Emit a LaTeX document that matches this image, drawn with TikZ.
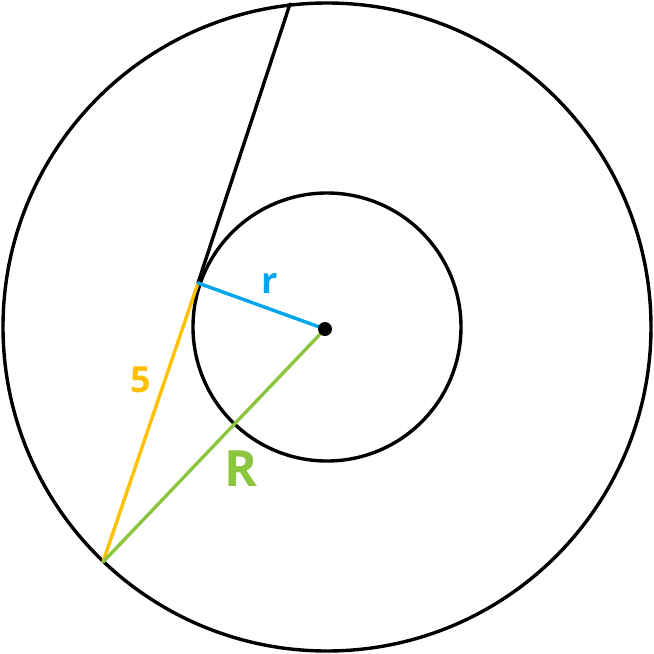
\documentclass[tikz,border=0pt]{standalone}
\usepackage{fontspec}
\setmainfont{Open Sans}
\definecolor{cblue}{RGB}{0,166,237}
\definecolor{corange}{RGB}{255,192,0}
\definecolor{cgreen}{RGB}{140,198,63}
\begin{document}
\begin{tikzpicture}[x=1pt,y=-1pt,
  seg/.style={line width=3.4pt,line cap=round},
  lbl/.style={inner sep=0pt,font=\fontsize{36}{36}\selectfont\bfseries}]
\useasboundingbox (0,0) rectangle (654,654);
\coordinate (C) at (327,327);
\coordinate (O) at (325,329);
\coordinate (T) at (198,283);
\coordinate (P) at (103,562);
\coordinate (Q) at (290,4);
\draw[line width=3.4pt] (C) circle[radius=324];
\draw[line width=3.4pt] (C) circle[radius=134];
\draw[seg,black] (T) -- (Q);
\draw[seg,corange] (P) -- (T);
\draw[seg,cblue] (T) -- (O);
\draw[seg,cgreen] (P) -- (O);
\fill (O) circle[radius=7];
\node[lbl,text=cblue] (r) at (270,283) {r};
\node[lbl,text=corange] (s) at (141,380) {5};
\node[lbl,text=cgreen,font=\fontsize{50}{50}\selectfont\bfseries] (R) at (241,469) {R};
\end{tikzpicture}
\end{document}
